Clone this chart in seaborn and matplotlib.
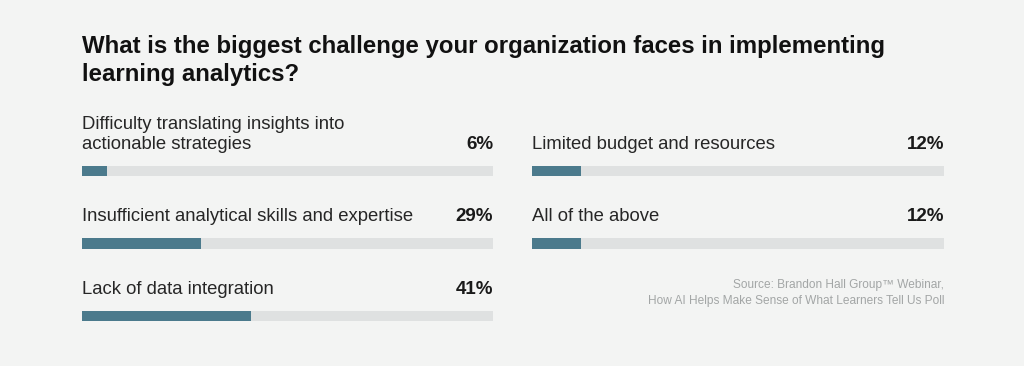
import pandas as pd
import seaborn as sns
import matplotlib.pyplot as plt

# Poll results
left_labels = ["Difficulty translating insights into\nactionable strategies",
               "Insufficient analytical skills and expertise",
               "Lack of data integration"]
left_values = [6, 29, 41]
right_labels = ["Limited budget and resources", "All of the above"]
right_values = [12, 12]

title = "What is the biggest challenge your organization faces in implementing\nlearning analytics?"
source = "Source: Brandon Hall Group\u2122 Webinar,\nHow AI Helps Make Sense of What Learners Tell Us Poll"

bg = "#f3f4f3"
bar_color = "#4b7a8c"
track_color = "#dfe1e1"

sns.set_theme(style="white")
plt.rcParams['font.family'] = ['Liberation Sans', 'DejaVu Sans']

fig = plt.figure(figsize=(10.24, 3.66), dpi=100)
fig.patch.set_facecolor(bg)

H = 366
W = 1024
# axes span: row centers at 171 / 243.5 / 316 px from top, 72.5 px per row
ax_h = 3 * 72.5
ax_bottom = (H - (316 + 36.25)) / H


def draw_column(x0, x1, labels, values):
    ax = fig.add_axes([x0 / W, ax_bottom, (x1 - x0) / W, ax_h / H])
    ax.set_facecolor(bg)
    df = pd.DataFrame({"label": labels, "value": values, "full": [100] * len(values)})
    sns.barplot(data=df, x="full", y="label", color=track_color, width=0.138,
                saturation=1, linewidth=0, ax=ax)
    sns.barplot(data=df, x="value", y="label", color=bar_color, width=0.138,
                saturation=1, linewidth=0, ax=ax)
    ax.set_xlim(0, 100)
    ax.set_ylim(2.5, -0.5)
    for i, (lab, val) in enumerate(zip(labels, values)):
        ax.text(0, i - 0.31, lab, ha="left", va="baseline", fontsize=13.3,
                color="#262626", linespacing=1.22)
        ax.text(100, i - 0.31, f"{val}%", ha="right", va="baseline", fontsize=13.5,
                fontweight="bold", color="#1a1a1a")
    ax.set_axis_off()
    return ax


draw_column(82, 493, left_labels, left_values)
draw_column(532, 944, right_labels, right_values)

fig.text(82 / W, 1 - 35 / H, title, ha="left", va="top", fontsize=17.3,
         fontweight="bold", color="#111111", linespacing=1.25)
fig.text(944 / W, 1 - 304 / H, source, ha="right", va="baseline", fontsize=8.6,
         color="#a3a6a6", linespacing=1.45)

fig.savefig("out.png", dpi=100, facecolor=bg)
